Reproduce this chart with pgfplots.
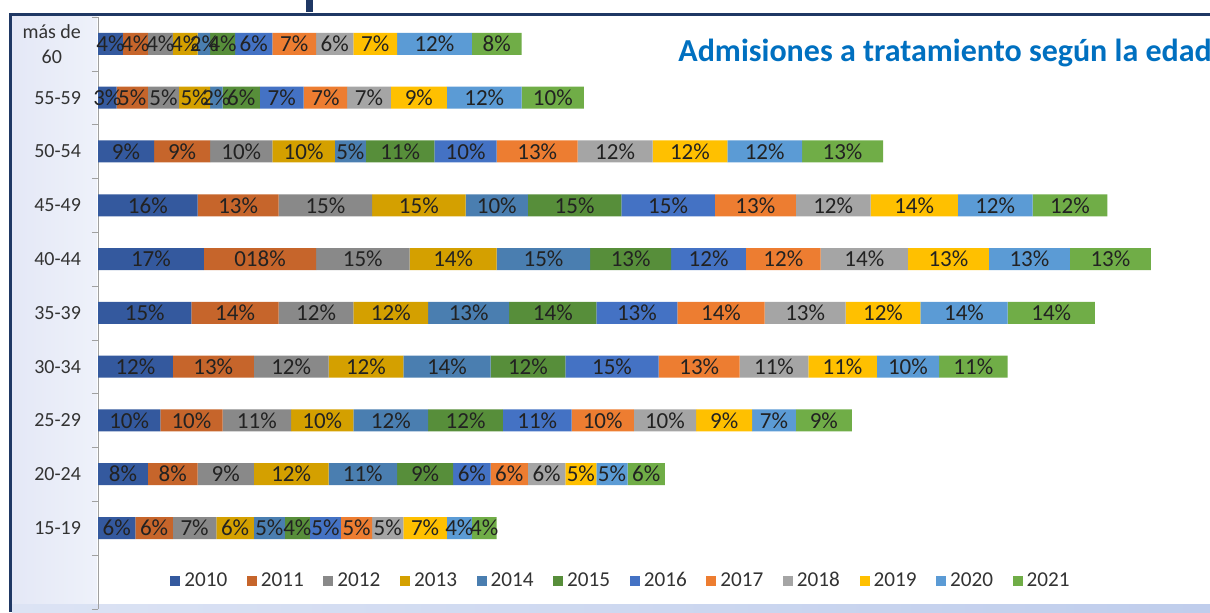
\documentclass[border=0pt]{standalone}
\usepackage{pgfplots}
\pgfplotsset{compat=1.18}
\usepackage{fontspec}
\setmainfont{Carlito}
\definecolor{c2010}{HTML}{34599E}
\definecolor{c2011}{HTML}{C6652B}
\definecolor{c2012}{HTML}{898989}
\definecolor{c2013}{HTML}{D4A000}
\definecolor{c2014}{HTML}{4A7EB0}
\definecolor{c2015}{HTML}{578E3A}
\definecolor{c2016}{HTML}{4472C4}
\definecolor{c2017}{HTML}{ED7D31}
\definecolor{c2018}{HTML}{A5A5A5}
\definecolor{c2019}{HTML}{FFC000}
\definecolor{c2020}{HTML}{5B9BD5}
\definecolor{c2021}{HTML}{70AD47}
\definecolor{titlec}{HTML}{0070C0}
\definecolor{navy}{HTML}{1F3864}
\definecolor{lav1}{HTML}{E4E8F6}
\definecolor{lav2}{HTML}{EEF1FA}
\definecolor{strip1}{HTML}{DCE3F4}
\definecolor{strip2}{HTML}{BFCDEC}
\definecolor{tickc}{HTML}{333333}
\definecolor{labelc}{HTML}{222222}
\definecolor{axisc}{HTML}{A0A0A0}
\begin{document}
\begin{tikzpicture}[x=1pt,y=1pt]
\path[use as bounding box] (0,0) rectangle (605,306);
\clip (0,0) rectangle (605,306);
\fill[white] (0,0) rectangle (605,306);
\shade[left color=lav1, right color=lav2] (6,0) rectangle (48.5,298);
\shade[left color=strip1, right color=strip2] (6,0) rectangle (605,4);
\fill[navy] (4.5,0) rectangle (6,299.5);
\fill[navy] (4.5,298) rectangle (605,299.5);
\fill[navy] (153,300) rectangle (156.5,306);
\begin{axis}[
  at={(49pt,1.65pt)}, anchor=south west,
  scale only axis, width=554.5pt, height=295.85pt,
  xbar stacked, bar width=11pt,
  xmin=0, xmax=178, ymin=-0.5, ymax=10.5,
  axis x line=none, axis y line*=left,
  y axis line style={axisc},
  ytick={1,...,10},
  yticklabels={15-19,20-24,25-29,30-34,35-39,40-44,45-49,50-54,55-59,{más de\\60}},
  yticklabel style={align=center, font=\fontsize{10}{12.5}\selectfont, text=tickc, xshift=-5pt},
  minor ytick={-0.5,0.5,...,10.5},
  major tick length=0pt, minor tick length=3pt, tick align=outside,
  minor tick style={axisc},
  point meta=explicit symbolic,
  nodes near coords={\pgfplotspointmeta},
  every node near coord/.append style={anchor=center, font=\fontsize{11.5}{13}\selectfont, text=labelc, inner sep=0pt},
  legend columns=12,
  legend style={at={(0.4725,0.0468)}, anchor=center, draw=none, fill=none,
    font=\fontsize{10.6}{12}\selectfont, text=tickc,
    /tikz/every even column/.append style={column sep=7.8pt}},
  legend image code/.code={\fill[#1] (0pt,-2.5pt) rectangle (5pt,2.5pt);},
]
\addplot[fill=c2010,draw=none] coordinates {(6,1)[6\%] (8,2)[8\%] (10,3)[10\%] (12,4)[12\%] (15,5)[15\%] (17,6)[17\%] (16,7)[16\%] (9,8)[9\%] (3,9)[3\%] (4,10)[4\%]};
\addplot[fill=c2011,draw=none] coordinates {(6,1)[6\%] (8,2)[8\%] (10,3)[10\%] (13,4)[13\%] (14,5)[14\%] (18,6)[018\%] (13,7)[13\%] (9,8)[9\%] (5,9)[5\%] (4,10)[4\%]};
\addplot[fill=c2012,draw=none] coordinates {(7,1)[7\%] (9,2)[9\%] (11,3)[11\%] (12,4)[12\%] (12,5)[12\%] (15,6)[15\%] (15,7)[15\%] (10,8)[10\%] (5,9)[5\%] (4,10)[4\%]};
\addplot[fill=c2013,draw=none] coordinates {(6,1)[6\%] (12,2)[12\%] (10,3)[10\%] (12,4)[12\%] (12,5)[12\%] (14,6)[14\%] (15,7)[15\%] (10,8)[10\%] (5,9)[5\%] (4,10)[4\%]};
\addplot[fill=c2014,draw=none] coordinates {(5,1)[5\%] (11,2)[11\%] (12,3)[12\%] (14,4)[14\%] (13,5)[13\%] (15,6)[15\%] (10,7)[10\%] (5,8)[5\%] (2,9)[2\%] (2,10)[2\%]};
\addplot[fill=c2015,draw=none] coordinates {(4,1)[4\%] (9,2)[9\%] (12,3)[12\%] (12,4)[12\%] (14,5)[14\%] (13,6)[13\%] (15,7)[15\%] (11,8)[11\%] (6,9)[6\%] (4,10)[4\%]};
\addplot[fill=c2016,draw=none] coordinates {(5,1)[5\%] (6,2)[6\%] (11,3)[11\%] (15,4)[15\%] (13,5)[13\%] (12,6)[12\%] (15,7)[15\%] (10,8)[10\%] (7,9)[7\%] (6,10)[6\%]};
\addplot[fill=c2017,draw=none] coordinates {(5,1)[5\%] (6,2)[6\%] (10,3)[10\%] (13,4)[13\%] (14,5)[14\%] (12,6)[12\%] (13,7)[13\%] (13,8)[13\%] (7,9)[7\%] (7,10)[7\%]};
\addplot[fill=c2018,draw=none] coordinates {(5,1)[5\%] (6,2)[6\%] (10,3)[10\%] (11,4)[11\%] (13,5)[13\%] (14,6)[14\%] (12,7)[12\%] (12,8)[12\%] (7,9)[7\%] (6,10)[6\%]};
\addplot[fill=c2019,draw=none] coordinates {(7,1)[7\%] (5,2)[5\%] (9,3)[9\%] (11,4)[11\%] (12,5)[12\%] (13,6)[13\%] (14,7)[14\%] (12,8)[12\%] (9,9)[9\%] (7,10)[7\%]};
\addplot[fill=c2020,draw=none] coordinates {(4,1)[4\%] (5,2)[5\%] (7,3)[7\%] (10,4)[10\%] (14,5)[14\%] (13,6)[13\%] (12,7)[12\%] (12,8)[12\%] (12,9)[12\%] (12,10)[12\%]};
\addplot[fill=c2021,draw=none] coordinates {(4,1)[4\%] (6,2)[6\%] (9,3)[9\%] (11,4)[11\%] (14,5)[14\%] (13,6)[13\%] (12,7)[12\%] (13,8)[13\%] (10,9)[10\%] (8,10)[8\%]};
\legend{2010,2011,2012,2013,2014,2015,2016,2017,2018,2019,2020,2021}
\end{axis}
\node[anchor=base west, font=\bfseries\fontsize{16}{18}\selectfont, text=titlec, inner sep=0pt] at (339,275) {Admisiones a tratamiento según la edad};
\end{tikzpicture}
\end{document}
